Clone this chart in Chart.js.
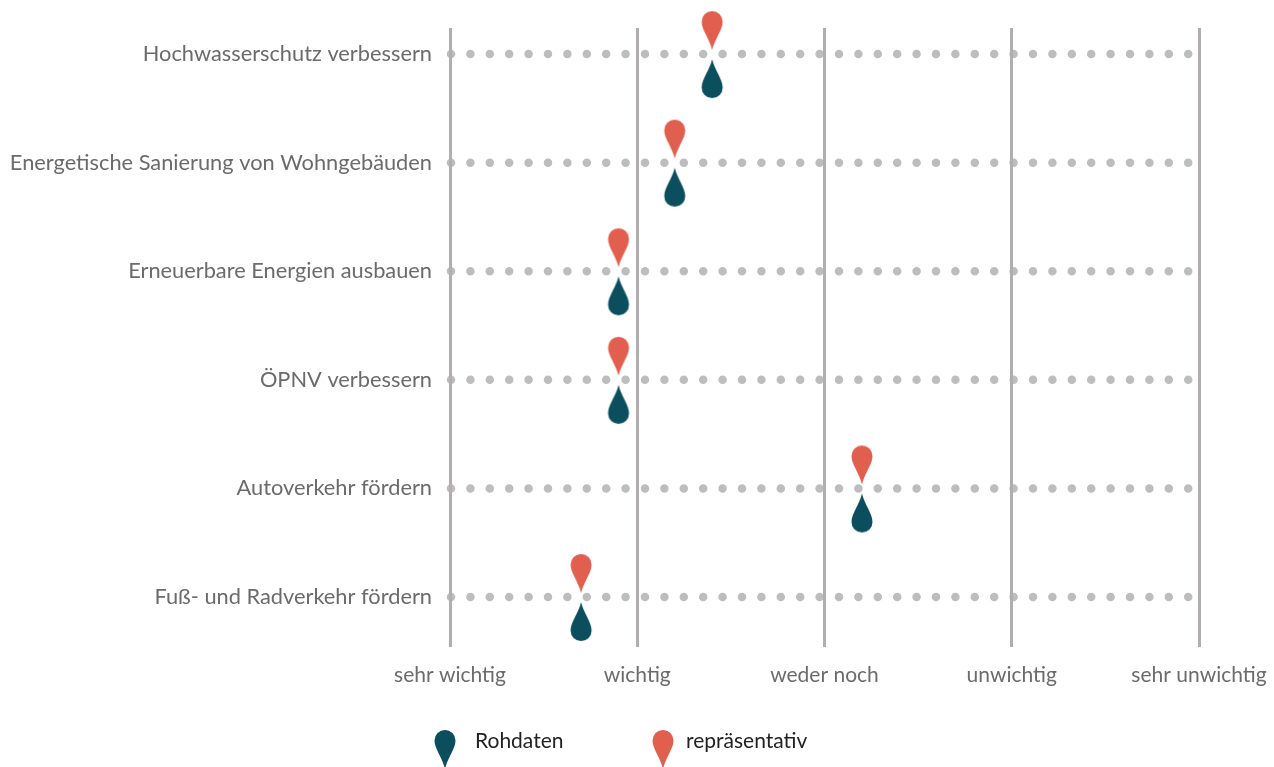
<!DOCTYPE html>
<html lang="de">
<head>
<meta charset="utf-8">
<title>Wichtigkeit von Maßnahmen</title>
<script src="https://cdn.jsdelivr.net/npm/chart.js@4.4.1/dist/chart.umd.min.js"></script>
<style>
  html, body { margin: 0; padding: 0; background: #ffffff; }
  #wrap { width: 1274px; height: 767px; position: relative; }
</style>
</head>
<body>
<div id="wrap"><canvas id="chart"></canvas></div>
<script>
// Maßnahmen (Zeilen, von oben nach unten)
const categories = [
  'Hochwasserschutz verbessern',
  'Energetische Sanierung von Wohngebäuden',
  'Erneuerbare Energien ausbauen',
  'ÖPNV verbessern',
  'Autoverkehr fördern',
  'Fuß- und Radverkehr fördern'
];
// Mittelwerte auf der Skala 1 (sehr wichtig) bis 5 (sehr unwichtig)
const rohdaten = [2.4, 2.2, 1.9, 1.9, 3.2, 1.7];
const repraesentativ = [2.4, 2.2, 1.9, 1.9, 3.2, 1.7];
// Beschriftung der Skalenpunkte 1..5
const scaleLabels = ['sehr wichtig', 'wichtig', 'weder noch', 'unwichtig', 'sehr unwichtig'];
const seriesNames = ['Rohdaten', 'repräsentativ'];

const TEAL = '#0b4e5d';
const CORAL = '#e05f4f';
const FONT = 'Lato, "Open Sans", sans-serif';

// Tropfenform: runder Kopf (Radius r, Mittelpunkt cy), Spitze bei tipY
function drop(ctx, cx, cy, r, tipY, color) {
  ctx.fillStyle = color;
  const dir = tipY > cy ? 1 : -1;
  const d = Math.abs(tipY - cy);
  ctx.beginPath();
  ctx.arc(cx, cy, r, 0, Math.PI, dir > 0);
  ctx.bezierCurveTo(cx - r, cy + dir * r * 0.8, cx - r * 0.25, cy + dir * d * 0.6, cx, tipY);
  ctx.bezierCurveTo(cx + r * 0.25, cy + dir * d * 0.6, cx + r, cy + dir * r * 0.8, cx + r, cy);
  ctx.closePath();
  ctx.fill();
}

// Punktsymbole: Bild ist um den Datenpunkt zentriert
function markerCanvas(color, above) {
  const c = document.createElement('canvas');
  c.width = 24; c.height = 92;
  const ctx = c.getContext('2d');
  const mid = 46;
  if (above) {
    drop(ctx, 12, mid - 32.5, 10.5, mid - 4, color);
  } else {
    drop(ctx, 12, mid + 33.5, 10.5, mid + 5, color);
  }
  return c;
}
const coralMarker = markerCanvas(CORAL, true);
const tealMarker = markerCanvas(TEAL, false);

// Punktlinien je Zeile, unter den senkrechten Rasterlinien
const dottedRows = {
  id: 'dottedRows',
  beforeDraw(chart) {
    const { ctx, chartArea, scales } = chart;
    ctx.save();
    ctx.strokeStyle = '#bdbdbd';
    ctx.lineWidth = 8.5;
    ctx.lineCap = 'round';
    ctx.setLineDash([0, 19.4]);
    categories.forEach((_, i) => {
      const y = scales.y.getPixelForValue(i);
      ctx.beginPath();
      ctx.moveTo(chartArea.left + 1, y);
      ctx.lineTo(chartArea.right, y);
      ctx.stroke();
    });
    ctx.restore();
  }
};

// Legende unter der Achse
const dropLegend = {
  id: 'dropLegend',
  afterDraw(chart) {
    const { ctx, width } = chart;
    const colors = [TEAL, CORAL];
    const textOffsets = [30, 23];
    ctx.save();
    ctx.font = '21px ' + FONT;
    ctx.textBaseline = 'middle';
    ctx.textAlign = 'left';
    const textY = 741;
    let x = width / 2 - 192;
    seriesNames.forEach((name, i) => {
      drop(ctx, x, 740.5, 10.5, 769, colors[i]);
      ctx.fillStyle = '#222222';
      ctx.fillText(name, x + textOffsets[i], textY);
      x += 218;
    });
    ctx.restore();
  }
};

new Chart(document.getElementById('chart'), {
  type: 'scatter',
  data: {
    datasets: [
      {
        label: seriesNames[1],
        data: repraesentativ.map((v, i) => ({ x: v, y: i })),
        pointStyle: coralMarker,
        pointRadius: 12,
        pointHoverRadius: 12,
        backgroundColor: CORAL,
        borderColor: CORAL,
        clip: false
      },
      {
        label: seriesNames[0],
        data: rohdaten.map((v, i) => ({ x: v, y: i })),
        pointStyle: tealMarker,
        pointRadius: 12,
        pointHoverRadius: 12,
        backgroundColor: TEAL,
        borderColor: TEAL,
        clip: false
      }
    ]
  },
  options: {
    responsive: true,
    maintainAspectRatio: false,
    animation: false,
    layout: { padding: { top: 28, right: 75, bottom: 70, left: 0 } },
    plugins: {
      legend: { display: false },
      tooltip: { enabled: false }
    },
    scales: {
      x: {
        type: 'linear',
        min: 1,
        max: 5,
        afterBuildTicks(scale) {
          scale.ticks = scaleLabels.map((_, i) => ({ value: i + 1 }));
        },
        afterFit(scale) {
          scale.height = 50;
          scale.paddingLeft = 0;
          scale.paddingRight = 0;
        },
        ticks: {
          callback: (v) => scaleLabels[v - 1],
          color: '#6b6b6b',
          font: { family: FONT, size: 21 },
          padding: 16,
          maxRotation: 0,
          autoSkip: false
        },
        grid: { color: '#b2aeb0', lineWidth: 3, drawTicks: false },
        border: { display: false }
      },
      y: {
        type: 'linear',
        reverse: true,
        min: -0.24,
        max: 5.46,
        afterBuildTicks(scale) {
          scale.ticks = categories.map((_, i) => ({ value: i }));
        },
        afterFit(scale) {
          scale.width = 450;
          scale.paddingTop = 0;
          scale.paddingBottom = 0;
        },
        ticks: {
          callback: (v) => categories[v],
          color: '#6b6b6b',
          font: { family: FONT, size: 21.8 },
          padding: 18
        },
        grid: { display: false, drawTicks: false },
        border: { display: false }
      }
    }
  },
  plugins: [dottedRows, dropLegend]
});
</script>
</body>
</html>
